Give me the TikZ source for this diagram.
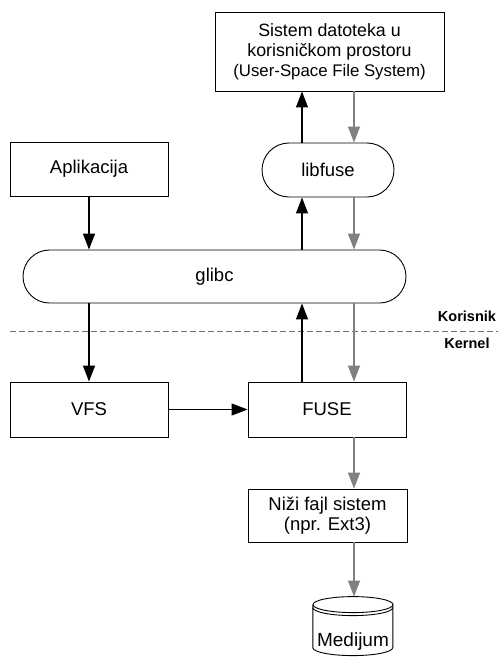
\documentclass[tikz,border=0pt]{standalone}
\usepackage{fontspec}
\setmainfont{Liberation Sans}
\usetikzlibrary{shapes.misc,arrows.meta}
\definecolor{flowgray}{HTML}{808080}
\definecolor{splitgray}{HTML}{707070}
\begin{document}
\begin{tikzpicture}[x=1pt,y=-1pt,
  lbl/.style={font=\fontsize{18.5}{20.5}\selectfont, align=center},
  box/.style={lbl, draw, rectangle, line width=0.9pt, inner sep=0pt},
  pill/.style={lbl, draw, rounded rectangle, line width=0.9pt, inner sep=0pt},
  cyl/.style={line width=0.9pt},
  up/.style={line width=1.2pt, -{Triangle[length=16pt,width=12pt]}},
  down/.style={line width=1.2pt, flowgray, -{Triangle[length=16pt,width=12pt]}},
  layer/.style={font=\fontsize{14.5}{16}\selectfont\bfseries},
  split/.style={line width=0.9pt, splitgray, dash pattern=on 6pt off 3pt}
]
\useasboundingbox (0,0) rectangle (498,657);

% blocks
\node[box, font=\fontsize{17.8}{20.2}\selectfont, minimum width=229pt, minimum height=79pt] (usfs) at (329.5,51.5)
  {Sistem datoteka u\\korisničkom prostoru\\{\fontsize{16.8}{20.2}\selectfont(User-Space File System)}};
\node[pill, minimum width=132pt, minimum height=54pt] (libfuse) at (328,170) {libfuse};
\node[box, minimum width=158pt, minimum height=54pt] (app) at (89,169) {Aplikacija};
\node[pill, minimum width=383pt, minimum height=53pt] (glibc) at (214.5,276.5) {glibc};
\node[box, minimum width=158pt, minimum height=55pt] (vfs) at (89,409.5) {VFS};
\node[box, minimum width=158pt, minimum height=55pt] (fuse) at (327,409.5) {FUSE};
\node[box, minimum width=159pt, minimum height=53pt] (nizi) at (327.5,515.5)
  {Niži fajl sistem\\(npr. Ext3)};

% storage medium (cylinder)
\node[lbl, font=\fontsize{19}{21}\selectfont, anchor=south, inner sep=0pt, minimum width=80pt,
      text height=50pt, text depth=9pt] (medijum) at (353,656) {Medijum};
\draw[cyl] (medijum.north) ++(0,8) ellipse[x radius=40, y radius=8];
\draw[cyl] (medijum.north west) ++(0,11) arc[start angle=180, end angle=0, x radius=40, y radius=8];
\draw[cyl] (medijum.north west) ++(0,8) -- ++(0,43)
  arc[start angle=180, end angle=0, x radius=40, y radius=8] -- ++(0,-43);

% user / kernel boundary
\coordinate (splitL) at (10,331);
\coordinate (splitR) at (498,331);
\draw[split] (splitL) -- (splitR);
\node[layer] (korisnik) at (467,316) {Korisnik};
\node[layer] (kernel) at (467,343) {Kernel};

% lanes of the request / reply paths
\coordinate (laneA) at (89,0);
\coordinate (laneU) at (302,0);
\coordinate (laneD) at (354,0);

% request path
\draw[up] (app.south) -- (glibc.north -| laneA);
\draw[up] (glibc.south -| laneA) -- (vfs.north);
\draw[up] (vfs.east) -- (fuse.west);
\draw[up] (fuse.north -| laneU) -- (glibc.south -| laneU);
\draw[up] (glibc.north -| laneU) -- (libfuse.south -| laneU);
\draw[up] (libfuse.north -| laneU) -- (usfs.south -| laneU);

% reply / storage path
\draw[down] (usfs.south -| laneD) -- (libfuse.north -| laneD);
\draw[down] (libfuse.south -| laneD) -- (glibc.north -| laneD);
\draw[down] (glibc.south -| laneD) -- (fuse.north -| laneD);
\draw[down] (fuse.south -| laneD) -- (nizi.north -| laneD);
\draw[down] (nizi.south -| laneD) -- (medijum.north -| laneD);
\end{tikzpicture}
\end{document}
